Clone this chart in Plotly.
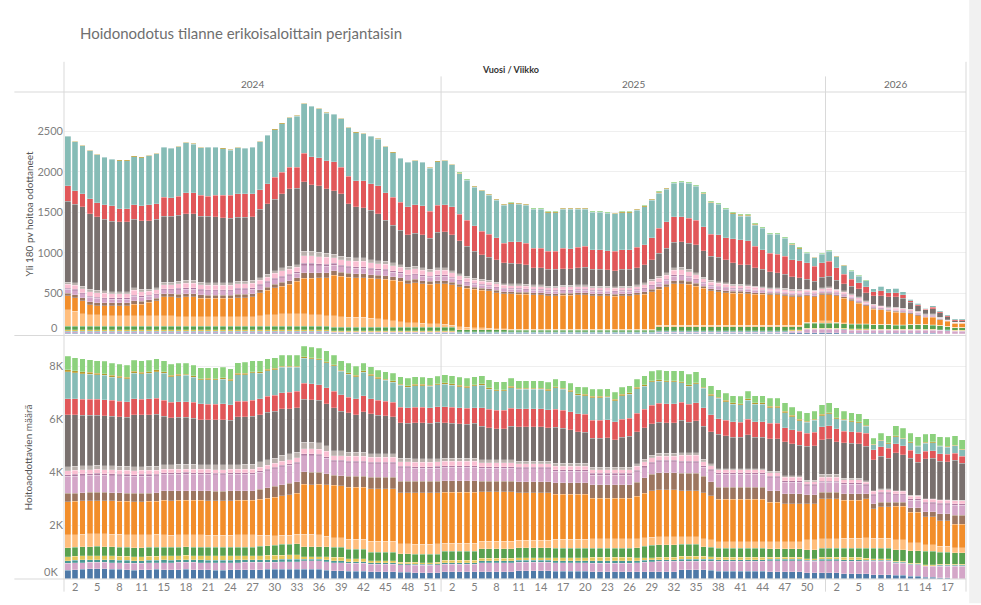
import plotly.graph_objects as go
from plotly.subplots import make_subplots

# ---------------- categories ----------------
weeks_2024 = [1, 2, 3, 4, 5, 6, 7, 8, 9, 10, 11, 12] + list(range(14, 53))
weeks_2025 = list(range(1, 53))
weeks_2026 = list(range(1, 20))
weeks = weeks_2024 + weeks_2025 + weeks_2026
years = ["2024"] * len(weeks_2024) + ["2025"] * len(weeks_2025) + ["2026"] * len(weeks_2026)
x = list(range(len(weeks)))

# ---------------- series: top panel (Yli 180 pv hoitoa odottaneet) ----------------
t_blue = [8, 8, 8, 8, 8, 8, 8, 8, 8, 8,
          8, 8, 8, 8, 8, 8, 8, 8, 8, 8,
          8, 8, 8, 8, 8, 8, 8, 8, 8, 8,
          8, 8, 8, 8, 8, 8, 6, 6, 6, 6,
          6, 6, 6, 6, 6, 6, 6, 6, 6, 6,
          6, 6, 6, 4, 4, 4, 4, 4, 4, 4,
          4, 4, 4, 4, 4, 4, 4, 4, 4, 4,
          4, 4, 4, 4, 4, 4, 4, 4, 4, 4,
          6, 6, 6, 6, 6, 6, 6, 6, 6, 6,
          6, 6, 6, 6, 6, 6, 6, 6, 15, 15,
          15, 15, 15, 15, 15, 5, 3, 3, 3, 3,
          3, 3, 3, 3, 3, 3, 3, 3, 2, 2,
          2, 2]
t_lavlow = [15, 15, 15, 15, 15, 15, 15, 15, 15, 15,
            15, 15, 15, 15, 15, 15, 15, 15, 15, 15,
            15, 15, 15, 15, 15, 15, 15, 15, 15, 15,
            15, 15, 15, 15, 15, 15, 12, 12, 12, 12,
            12, 12, 12, 12, 12, 12, 12, 12, 12, 12,
            12, 12, 12, 10, 10, 10, 10, 10, 10, 10,
            10, 10, 10, 10, 10, 10, 10, 10, 10, 10,
            10, 10, 10, 10, 10, 10, 10, 10, 10, 10,
            15, 15, 15, 15, 15, 15, 15, 15, 15, 15,
            15, 15, 15, 15, 15, 15, 15, 15, 15, 15,
            40, 40, 40, 40, 40, 45, 42, 42, 42, 40,
            40, 40, 40, 40, 42, 42, 42, 40, 38, 35,
            30, 30]
t_teal2 = [10, 10, 10, 10, 10, 10, 10, 10, 10, 10,
           10, 10, 10, 10, 10, 10, 10, 10, 10, 10,
           10, 10, 10, 10, 10, 10, 10, 10, 10, 10,
           10, 10, 10, 10, 10, 10, 8, 8, 8, 8,
           8, 8, 8, 8, 8, 8, 8, 8, 8, 8,
           8, 8, 8, 5, 5, 5, 5, 5, 5, 5,
           5, 5, 5, 5, 5, 5, 5, 5, 5, 5,
           5, 5, 5, 5, 5, 5, 5, 5, 5, 5,
           7, 7, 7, 7, 7, 7, 7, 7, 7, 7,
           7, 7, 7, 7, 7, 7, 7, 7, 7, 7,
           6, 6, 6, 6, 6, 6, 6, 6, 6, 6,
           6, 6, 5, 5, 5, 5, 5, 5, 5, 4,
           4, 4]
t_yellow = [15, 15, 15, 15, 15, 15, 15, 15, 15, 15,
            15, 15, 15, 15, 15, 15, 15, 15, 15, 15,
            15, 15, 15, 15, 15, 15, 15, 15, 15, 15,
            15, 15, 15, 15, 15, 15, 12, 12, 12, 12,
            12, 12, 12, 12, 12, 12, 12, 12, 12, 12,
            12, 12, 12, 7, 7, 7, 7, 7, 7, 7,
            7, 7, 7, 7, 7, 7, 7, 7, 7, 7,
            7, 7, 7, 7, 7, 7, 7, 7, 7, 7,
            11, 11, 11, 11, 11, 11, 11, 11, 11, 11,
            11, 11, 11, 11, 11, 11, 11, 11, 11, 11,
            9, 9, 9, 9, 9, 10, 9, 9, 9, 9,
            9, 9, 8, 8, 8, 8, 8, 8, 7, 7,
            6, 6]
t_green = [45, 45, 45, 45, 45, 45, 45, 45, 45, 45,
           45, 45, 45, 45, 45, 45, 45, 45, 45, 45,
           45, 45, 45, 45, 45, 45, 45, 45, 45, 45,
           45, 45, 45, 45, 45, 45, 43, 43, 43, 43,
           43, 43, 43, 43, 43, 43, 43, 43, 43, 43,
           43, 43, 43, 23, 23, 23, 23, 23, 23, 23,
           19, 19, 19, 19, 19, 19, 19, 19, 19, 19,
           19, 19, 19, 19, 19, 19, 19, 19, 19, 19,
           50, 50, 50, 50, 50, 50, 50, 50, 50, 50,
           50, 50, 50, 50, 50, 50, 50, 50, 41, 41,
           60, 60, 60, 60, 60, 60, 55, 55, 55, 50,
           50, 50, 48, 48, 50, 50, 50, 48, 44, 40,
           34, 34]
t_lorange = [200, 183, 151, 139, 139, 131, 131, 131, 131, 131,
             131, 131, 131, 131, 131, 118, 118, 118, 118, 118,
             118, 118, 118, 118, 118, 118, 131, 139, 143, 151,
             151, 151, 151, 139, 139, 131, 143, 130, 122, 122,
             122, 110, 102, 90, 82, 69, 57, 57, 49, 41,
             41, 33, 21, 40, 32, 24, 24, 16, 12, 12,
             10, 10, 10, 10, 10, 10, 10, 10, 10, 10,
             10, 10, 10, 10, 10, 10, 10, 10, 10, 10,
             13, 13, 13, 13, 13, 13, 13, 13, 13, 13,
             13, 13, 13, 13, 13, 13, 13, 13, 13, 13,
             12, 12, 33, 33, 12, 8, 7, 7, 7, 6,
             6, 6, 6, 6, 6, 6, 6, 6, 6, 5,
             5, 5]
t_orange = [174, 171, 163, 126, 114, 122, 122, 122, 122, 142,
            142, 162, 183, 231, 231, 236, 244, 244, 228, 228,
            228, 228, 228, 236, 236, 244, 284, 305, 333, 345,
            366, 406, 439, 451, 459, 467, 500, 500, 496, 488,
            488, 492, 496, 500, 496, 500, 480, 492, 488, 488,
            496, 504, 500, 488, 480, 476, 464, 463, 447, 435,
            439, 433, 433, 425, 425, 412, 412, 421, 421, 425,
            425, 412, 412, 412, 408, 412, 412, 425, 433, 465,
            447, 475, 516, 516, 508, 487, 459, 426, 418, 406,
            398, 398, 394, 386, 386, 378, 378, 365, 357, 357,
            325, 313, 317, 317, 325, 305, 285, 252, 224, 191,
            179, 162, 154, 146, 130, 110, 89, 93, 73, 61,
            49, 49]
t_brown = [34, 37, 36, 38, 38, 36, 35, 35, 35, 41,
           37, 33, 32, 37, 37, 41, 41, 41, 40, 38,
           38, 38, 38, 41, 41, 41, 37, 39, 42, 45,
           45, 41, 67, 67, 63, 61, 52, 49, 49, 49,
           49, 46, 45, 45, 43, 41, 41, 41, 39, 37,
           39, 39, 36, 33, 30, 27, 27, 26, 26, 24,
           24, 26, 24, 24, 24, 24, 24, 24, 24, 24,
           24, 24, 24, 24, 24, 24, 24, 24, 28, 30,
           32, 35, 39, 41, 37, 33, 28, 26, 24, 24,
           22, 22, 21, 20, 19, 18, 18, 19, 18, 18,
           16, 16, 18, 19, 16, 18, 18, 16, 12, 12,
           11, 11, 12, 12, 12, 10, 8, 8, 6, 4,
           2, 2]
t_lav = [46, 49, 49, 52, 52, 49, 47, 47, 47, 55,
         49, 44, 44, 49, 49, 55, 55, 55, 54, 52,
         52, 52, 52, 55, 55, 55, 49, 53, 57, 60,
         60, 55, 90, 90, 85, 82, 70, 66, 66, 66,
         66, 63, 60, 60, 58, 55, 55, 55, 53, 49,
         53, 53, 48, 44, 41, 36, 36, 35, 35, 33,
         33, 35, 33, 33, 33, 33, 33, 33, 33, 33,
         33, 33, 33, 32, 32, 33, 33, 33, 38, 41,
         44, 47, 53, 55, 49, 44, 37, 35, 33, 33,
         30, 30, 29, 27, 25, 24, 24, 25, 24, 24,
         22, 22, 24, 26, 22, 24, 24, 22, 16, 16,
         14, 15, 16, 16, 16, 14, 11, 11, 8, 6,
         3, 3]
t_purple = [14, 15, 15, 15, 15, 15, 14, 14, 14, 16,
            15, 13, 13, 15, 15, 16, 16, 16, 16, 15,
            15, 15, 15, 16, 16, 16, 15, 16, 17, 18,
            18, 16, 27, 27, 25, 24, 21, 20, 20, 20,
            20, 19, 18, 18, 17, 16, 16, 16, 16, 15,
            16, 16, 14, 13, 12, 11, 11, 10, 10, 10,
            10, 10, 10, 10, 10, 10, 10, 10, 10, 10,
            10, 10, 10, 9, 9, 10, 10, 10, 11, 12,
            13, 14, 16, 16, 15, 13, 11, 10, 10, 10,
            9, 9, 8, 8, 7, 7, 7, 8, 7, 7,
            7, 7, 7, 8, 7, 7, 7, 6, 5, 5,
            4, 5, 5, 5, 5, 4, 3, 3, 2, 2,
            1, 1]
t_pink = [48, 51, 51, 53, 53, 51, 49, 49, 49, 57,
          51, 46, 45, 51, 51, 57, 57, 57, 56, 53,
          53, 53, 53, 57, 57, 57, 51, 55, 59, 63,
          62, 57, 93, 93, 88, 85, 73, 68, 68, 68,
          68, 65, 62, 62, 60, 57, 57, 57, 55, 51,
          55, 55, 50, 46, 42, 38, 38, 37, 36, 34,
          34, 36, 34, 34, 34, 34, 34, 34, 34, 34,
          34, 34, 34, 33, 33, 34, 34, 34, 40, 42,
          45, 49, 55, 57, 51, 46, 39, 37, 34, 34,
          31, 31, 30, 28, 26, 25, 25, 26, 25, 25,
          23, 23, 25, 27, 23, 25, 25, 23, 17, 17,
          15, 16, 17, 17, 17, 15, 12, 12, 8, 6,
          4, 4]
t_lgrey = [29, 31, 31, 33, 33, 31, 29, 29, 29, 34,
           31, 27, 28, 31, 31, 34, 35, 35, 33, 33,
           33, 33, 33, 34, 34, 35, 31, 32, 36, 38,
           38, 35, 56, 56, 52, 53, 44, 41, 41, 41,
           41, 39, 38, 38, 37, 35, 34, 34, 32, 31,
           32, 32, 30, 27, 25, 22, 22, 23, 23, 21,
           21, 23, 21, 21, 21, 21, 21, 21, 21, 21,
           21, 21, 21, 20, 20, 21, 21, 21, 25, 26,
           28, 30, 32, 34, 31, 27, 23, 23, 21, 21,
           18, 18, 18, 18, 16, 15, 15, 16, 16, 16,
           14, 14, 15, 17, 14, 15, 15, 14, 11, 11,
           9, 10, 11, 11, 11, 9, 7, 7, 4, 3,
           2, 2]
t_dgrey = [1000, 968, 976, 935, 906, 887, 870, 862, 862, 846,
           845, 845, 842, 813, 813, 813, 825, 825, 813, 821,
           813, 801, 793, 785, 785, 784, 846, 874, 879, 915,
           956, 943, 862, 825, 825, 793, 784, 773, 663, 630,
           622, 609, 582, 508, 467, 426, 399, 407, 407, 386,
           439, 447, 440, 406, 366, 333, 305, 284, 277, 256,
           256, 244, 244, 211, 211, 204, 204, 207, 207, 211,
           219, 204, 204, 204, 199, 204, 204, 211, 224, 244,
           285, 305, 317, 317, 325, 346, 325, 296, 301, 285,
           264, 244, 252, 224, 212, 195, 183, 171, 154, 142,
           122, 113, 130, 134, 110, 90, 93, 102, 101, 101,
           121, 122, 130, 122, 81, 70, 49, 65, 57, 36,
           21, 21]
t_red = [191, 170, 163, 183, 171, 179, 187, 163, 163, 179,
         183, 200, 195, 236, 228, 236, 256, 256, 256, 248,
         264, 276, 284, 293, 293, 285, 243, 244, 272, 264,
         264, 256, 350, 346, 346, 345, 354, 325, 337, 325,
         333, 326, 345, 338, 346, 346, 345, 354, 357, 333,
         333, 334, 345, 326, 325, 317, 292, 285, 272, 244,
         264, 276, 264, 244, 244, 223, 223, 252, 244, 252,
         256, 244, 244, 235, 236, 244, 244, 252, 244, 272,
         305, 325, 313, 305, 305, 304, 297, 273, 277, 272,
         297, 305, 292, 264, 244, 232, 232, 223, 212, 211,
         203, 183, 175, 183, 154, 114, 82, 73, 69, 53,
         61, 53, 53, 41, 21, 12, 12, 16, 12, 13,
         12, 12]
t_lteal = [610, 602, 593, 593, 593, 585, 578, 593, 593, 593,
           598, 601, 614, 614, 610, 610, 618, 602, 590, 602,
           594, 578, 561, 569, 561, 573, 590, 601, 589, 602,
           614, 634, 610, 622, 602, 590, 585, 602, 598, 594,
           578, 589, 574, 569, 549, 541, 553, 540, 537, 533,
           541, 540, 520, 502, 491, 478, 494, 482, 462, 470,
           470, 462, 470, 478, 478, 478, 478, 482, 490, 474,
           462, 461, 461, 462, 462, 457, 457, 462, 469, 462,
           433, 401, 413, 425, 433, 417, 405, 388, 376, 348,
           311, 291, 304, 263, 262, 230, 242, 222, 181, 149,
           122, 102, 110, 122, 138, 110, 102, 78, 74, 37,
           61, 49, 53, 36, 20, 16, 8, 21, 13, 8,
           8, 8]
t_olive = [8, 8, 8, 8, 8, 8, 8, 8, 8, 8,
           8, 8, 8, 8, 8, 8, 8, 8, 8, 8,
           8, 8, 8, 8, 8, 8, 8, 8, 8, 8,
           8, 8, 8, 8, 8, 8, 8, 8, 8, 8,
           8, 8, 8, 8, 8, 8, 8, 8, 8, 8,
           8, 8, 8, 10, 10, 10, 10, 10, 10, 10,
           10, 10, 10, 10, 10, 10, 10, 10, 10, 10,
           10, 10, 10, 10, 10, 10, 10, 10, 10, 10,
           10, 10, 10, 10, 10, 10, 10, 10, 10, 10,
           10, 10, 10, 10, 10, 10, 10, 10, 10, 10,
           6, 6, 6, 6, 6, 6, 6, 6, 6, 0,
           0, 0, 0, 0, 0, 0, 0, 0, 0, 0,
           0, 0]
t_lgreen = [0, 0, 0, 0, 0, 0, 0, 0, 0, 0,
            0, 0, 0, 0, 0, 0, 0, 0, 0, 0,
            0, 0, 0, 0, 0, 0, 0, 0, 0, 0,
            0, 0, 0, 0, 0, 0, 0, 0, 0, 0,
            0, 0, 0, 0, 0, 0, 0, 0, 0, 0,
            0, 0, 0, 8, 8, 8, 8, 8, 8, 8,
            8, 8, 8, 8, 8, 8, 8, 8, 8, 8,
            8, 8, 8, 8, 8, 8, 8, 8, 8, 8,
            12, 12, 12, 12, 12, 12, 12, 12, 12, 12,
            12, 12, 12, 12, 12, 12, 12, 12, 12, 12,
            6, 6, 6, 6, 6, 6, 6, 6, 6, 0,
            0, 0, 0, 0, 0, 0, 0, 0, 0, 0,
            0, 0]

# ---------------- series: bottom panel (Hoitoaodottavien määrä) ----------------
b_blue = [330, 345, 360, 370, 375, 370, 360, 350, 340, 330,
          335, 345, 350, 340, 335, 345, 350, 345, 340, 335,
          330, 330, 335, 340, 345, 345, 345, 350, 355, 360,
          365, 365, 365, 365, 365, 330, 297, 297, 290, 290,
          290, 270, 270, 270, 270, 240, 240, 230, 225, 225,
          235, 260, 260, 260, 260, 260, 265, 265, 265, 265,
          265, 305, 305, 305, 305, 305, 285, 285, 285, 285,
          285, 260, 260, 260, 260, 260, 260, 260, 260, 260,
          260, 260, 260, 347, 347, 347, 347, 320, 285, 285,
          285, 285, 285, 285, 285, 260, 260, 260, 260, 260,
          223, 223, 223, 223, 223, 186, 186, 186, 186, 161,
          161, 161, 136, 136, 100, 100, 62, 62, 40, 40,
          10, 10]
b_lavlow = [250, 250, 250, 250, 250, 250, 250, 250, 250, 250,
            250, 250, 250, 270, 270, 270, 270, 270, 270, 270,
            270, 270, 270, 270, 270, 270, 270, 270, 270, 272,
            272, 272, 310, 310, 310, 310, 310, 310, 300, 300,
            300, 280, 280, 280, 280, 285, 285, 285, 285, 285,
            285, 280, 280, 280, 280, 280, 340, 340, 340, 340,
            340, 310, 310, 310, 310, 310, 310, 310, 310, 310,
            310, 334, 334, 334, 334, 334, 334, 350, 370, 390,
            396, 396, 396, 310, 310, 310, 310, 340, 371, 371,
            371, 371, 371, 371, 371, 421, 421, 421, 421, 421,
            433, 433, 458, 458, 458, 470, 470, 470, 470, 495,
            495, 495, 458, 458, 430, 430, 409, 409, 440, 440,
            470, 470]
b_teal2 = [100, 100, 100, 100, 100, 100, 100, 100, 100, 100,
           100, 100, 100, 100, 100, 100, 100, 100, 100, 100,
           100, 100, 100, 100, 100, 100, 100, 100, 100, 100,
           100, 100, 60, 60, 60, 70, 80, 80, 60, 60,
           60, 50, 50, 50, 50, 40, 40, 40, 40, 40,
           40, 60, 60, 60, 60, 60, 65, 65, 65, 65,
           65, 75, 75, 75, 75, 75, 80, 80, 80, 80,
           80, 80, 80, 80, 80, 80, 80, 70, 65, 60,
           60, 60, 60, 75, 75, 75, 75, 70, 60, 60,
           60, 60, 60, 60, 60, 50, 50, 50, 50, 50,
           40, 40, 50, 50, 50, 60, 60, 60, 50, 40,
           40, 40, 25, 25, 25, 25, 25, 25, 25, 25,
           25, 25]
b_yellow = [150, 150, 150, 150, 150, 150, 150, 150, 150, 150,
            150, 150, 150, 160, 160, 160, 160, 160, 160, 160,
            160, 160, 160, 160, 160, 160, 160, 160, 160, 160,
            160, 160, 90, 90, 90, 110, 130, 130, 100, 100,
            100, 80, 80, 80, 80, 60, 60, 60, 60, 60,
            60, 90, 90, 90, 90, 90, 95, 95, 95, 95,
            95, 110, 110, 110, 110, 110, 120, 120, 120, 120,
            120, 130, 130, 130, 130, 130, 130, 110, 100, 90,
            89, 89, 89, 111, 111, 111, 111, 100, 89, 89,
            89, 89, 89, 89, 89, 74, 74, 74, 74, 74,
            59, 59, 74, 74, 74, 89, 89, 89, 74, 59,
            59, 59, 37, 37, 37, 37, 37, 37, 37, 37,
            37, 37]
b_green = [340, 340, 340, 340, 340, 340, 340, 340, 340, 340,
           340, 340, 340, 320, 320, 320, 320, 320, 320, 320,
           320, 320, 320, 320, 320, 320, 340, 360, 380, 400,
           410, 421, 384, 384, 384, 380, 371, 371, 360, 360,
           360, 320, 320, 320, 320, 310, 310, 310, 310, 310,
           310, 350, 350, 350, 350, 350, 370, 370, 370, 370,
           370, 370, 370, 370, 370, 370, 347, 347, 347, 347,
           347, 347, 347, 347, 347, 347, 347, 380, 420, 460,
           470, 470, 470, 458, 458, 458, 371, 360, 347, 347,
           347, 347, 347, 347, 347, 322, 322, 322, 322, 322,
           334, 334, 347, 347, 347, 347, 347, 347, 371, 396,
           396, 396, 433, 433, 460, 460, 495, 495, 460, 460,
           433, 433]
b_lorange = [480, 480, 480, 480, 480, 480, 480, 480, 480, 480,
             480, 480, 480, 460, 460, 460, 460, 460, 460, 460,
             460, 460, 460, 460, 460, 460, 420, 390, 360, 340,
             340, 360, 458, 458, 440, 400, 347, 347, 380, 380,
             380, 420, 420, 420, 420, 380, 380, 380, 380, 380,
             380, 300, 300, 300, 300, 300, 275, 275, 275, 275,
             275, 285, 285, 285, 285, 285, 347, 347, 347, 347,
             347, 347, 347, 347, 347, 347, 347, 330, 320, 310,
             310, 310, 310, 285, 285, 285, 285, 270, 248, 248,
             248, 248, 248, 248, 248, 272, 272, 272, 272, 272,
             371, 371, 347, 347, 347, 371, 371, 371, 396, 371,
             371, 371, 371, 371, 300, 300, 248, 248, 220, 220,
             186, 186]
b_orange = [1250, 1250, 1250, 1250, 1250, 1250, 1250, 1250, 1250, 1250,
            1250, 1250, 1250, 1300, 1300, 1300, 1300, 1300, 1300, 1300,
            1300, 1300, 1300, 1300, 1300, 1300, 1350, 1400, 1450, 1500,
            1520, 1535, 1882, 1880, 1900, 1940, 1981, 1960, 1960, 1960,
            1960, 1960, 1960, 1960, 1960, 1930, 1930, 1930, 1930, 1930,
            1930, 1910, 1910, 1910, 1910, 1910, 1860, 1860, 1860, 1860,
            1860, 1790, 1790, 1790, 1790, 1790, 1690, 1690, 1690, 1690,
            1690, 1540, 1540, 1540, 1540, 1540, 1540, 1600, 1680, 1740,
            1770, 1770, 1770, 1733, 1733, 1733, 1740, 1660, 1585, 1585,
            1585, 1585, 1585, 1585, 1585, 1486, 1486, 1430, 1430, 1430,
            1362, 1362, 1510, 1510, 1510, 1424, 1424, 1424, 1461, 1114,
            1180, 1180, 1275, 1275, 1150, 1150, 1052, 1052, 970, 970,
            891, 891]
b_brown = [310, 310, 310, 310, 310, 310, 310, 310, 310, 310,
           310, 310, 310, 360, 360, 360, 360, 360, 360, 360,
           360, 360, 360, 360, 360, 360, 380, 390, 400, 410,
           420, 433, 470, 470, 460, 420, 371, 390, 410, 410,
           410, 440, 440, 440, 440, 433, 433, 433, 433, 433,
           433, 430, 430, 430, 430, 430, 400, 400, 400, 400,
           400, 410, 410, 410, 410, 410, 433, 433, 433, 433,
           433, 495, 495, 495, 495, 495, 495, 540, 580, 620,
           644, 644, 644, 644, 644, 644, 619, 540, 458, 458,
           458, 458, 458, 458, 458, 433, 433, 380, 380, 380,
           334, 334, 248, 248, 248, 248, 248, 248, 186, 186,
           186, 186, 149, 149, 170, 170, 186, 186, 260, 260,
           347, 347]
b_lav = [640, 640, 640, 640, 640, 640, 640, 640, 640, 640,
         640, 640, 640, 620, 620, 620, 620, 620, 620, 620,
         620, 620, 620, 620, 620, 620, 640, 650, 660, 670,
         680, 681, 619, 619, 619, 570, 520, 520, 510, 510,
         510, 500, 500, 500, 500, 495, 495, 495, 495, 495,
         495, 520, 520, 520, 520, 520, 495, 495, 495, 495,
         495, 490, 490, 490, 490, 490, 433, 433, 433, 433,
         433, 371, 371, 371, 371, 371, 371, 380, 390, 395,
         396, 396, 396, 409, 409, 409, 330, 410, 495, 495,
         495, 495, 495, 495, 495, 480, 480, 420, 420, 420,
         347, 347, 371, 371, 371, 371, 371, 371, 310, 310,
         310, 310, 272, 272, 290, 290, 310, 310, 340, 340,
         371, 371]
b_purple = [70, 70, 70, 70, 70, 70, 70, 70, 70, 70,
            70, 70, 70, 60, 60, 60, 60, 60, 60, 60,
            60, 60, 60, 60, 60, 60, 60, 60, 60, 60,
            60, 60, 60, 60, 60, 60, 60, 60, 60, 60,
            60, 60, 60, 60, 60, 60, 60, 60, 60, 60,
            60, 60, 60, 60, 60, 60, 60, 60, 60, 60,
            60, 60, 60, 60, 60, 60, 60, 60, 60, 60,
            60, 60, 60, 60, 60, 60, 60, 60, 60, 60,
            60, 60, 60, 60, 60, 60, 60, 60, 60, 60,
            60, 60, 60, 60, 60, 60, 60, 60, 60, 60,
            50, 50, 50, 50, 50, 50, 50, 50, 50, 50,
            50, 50, 50, 50, 50, 50, 50, 50, 50, 50,
            50, 50]
b_pink = [150, 150, 150, 150, 150, 150, 150, 150, 150, 150,
          150, 150, 150, 130, 130, 130, 130, 130, 130, 130,
          130, 130, 130, 130, 130, 130, 140, 150, 150, 160,
          160, 161, 190, 190, 190, 200, 170, 170, 180, 180,
          180, 200, 200, 200, 200, 170, 170, 170, 170, 170,
          170, 160, 160, 160, 160, 160, 140, 140, 140, 140,
          140, 120, 120, 120, 120, 120, 130, 130, 130, 130,
          130, 140, 140, 140, 140, 140, 140, 150, 160, 163,
          163, 163, 163, 212, 212, 212, 150, 125, 100, 100,
          100, 100, 100, 100, 100, 140, 140, 140, 140, 140,
          100, 100, 136, 136, 136, 111, 111, 111, 86, 111,
          111, 111, 86, 86, 100, 100, 111, 111, 111, 111,
          111, 111]
b_lgrey = [150, 150, 150, 150, 150, 150, 150, 150, 150, 150,
           150, 150, 150, 180, 180, 180, 180, 180, 180, 180,
           180, 180, 180, 180, 180, 180, 190, 200, 200, 210,
           210, 210, 248, 248, 248, 210, 186, 186, 160, 160,
           160, 130, 130, 130, 130, 124, 124, 124, 124, 124,
           124, 124, 124, 124, 124, 124, 120, 120, 120, 120,
           120, 100, 100, 100, 100, 100, 120, 120, 120, 120,
           120, 87, 87, 87, 87, 87, 87, 90, 95, 99,
           99, 99, 99, 99, 99, 99, 99, 75, 50, 50,
           50, 50, 50, 50, 50, 50, 50, 50, 50, 50,
           50, 50, 124, 124, 124, 50, 50, 50, 50, 25,
           25, 25, 25, 25, 25, 25, 25, 25, 25, 25,
           25, 25]
b_dgrey = [1960, 1935, 1910, 1900, 1890, 1880, 1860, 1850, 1840, 1950,
           1940, 1940, 1960, 1820, 1760, 1770, 1770, 1740, 1690, 1690,
           1690, 1700, 1670, 1790, 1790, 1820, 1780, 1780, 1760, 1750,
           1700, 1680, 1620, 1610, 1590, 1580, 1620, 1490, 1470, 1410,
           1520, 1500, 1450, 1420, 1380, 1350, 1320, 1360, 1360, 1345,
           1370, 1330, 1310, 1290, 1270, 1300, 1260, 1200, 1170, 1170,
           1250, 1290, 1290, 1290, 1290, 1260, 1350, 1310, 1260, 1180,
           1160, 1100, 1100, 1110, 1040, 1140, 1170, 1220, 1180, 1180,
           1170, 1160, 1160, 1220, 1150, 1200, 1250, 1200, 1290, 1230,
           1180, 1170, 1270, 1180, 1180, 1230, 1230, 1270, 1200, 1150,
           1280, 1310, 1290, 1330, 1220, 1340, 1320, 1310, 1290, 1170,
           1220, 1150, 1420, 1350, 1390, 1250, 1500, 1520, 1450, 1430,
           1500, 1390]
b_red = [600, 600, 600, 600, 600, 600, 600, 600, 600, 600,
         600, 600, 600, 590, 590, 590, 590, 590, 590, 590,
         590, 590, 590, 590, 590, 590, 600, 600, 610, 610,
         619, 619, 594, 594, 594, 610, 619, 619, 600, 600,
         600, 560, 560, 560, 560, 580, 580, 580, 580, 580,
         580, 600, 600, 600, 600, 600, 690, 690, 690, 690,
         690, 680, 680, 680, 680, 680, 680, 680, 680, 680,
         680, 681, 681, 681, 681, 681, 681, 690, 700, 710,
         718, 718, 718, 681, 681, 681, 693, 640, 582, 582,
         582, 582, 582, 582, 582, 570, 570, 530, 530, 530,
         495, 495, 495, 495, 495, 433, 433, 433, 495, 371,
         371, 371, 347, 347, 310, 310, 285, 285, 280, 280,
         272, 272]
b_lteal = [1020, 990, 963, 946, 929, 914, 882, 867, 850, 971,
           956, 956, 998, 1031, 967, 982, 982, 950, 901, 914,
           914, 929, 896, 999, 999, 1031, 967, 969, 951, 951,
           937, 896, 950, 937, 928, 933, 950, 871, 862, 823,
           882, 879, 805, 773, 751, 820, 788, 810, 810, 801,
           825, 845, 828, 799, 781, 813, 847, 759, 727, 727,
           770, 729, 729, 729, 729, 710, 801, 779, 743, 699,
           694, 843, 843, 845, 791, 877, 909, 928, 872, 871,
           829, 814, 814, 727, 673, 710, 721, 721, 770, 706,
           657, 642, 728, 657, 657, 594, 594, 578, 487, 388,
           418, 449, 421, 443, 367, 417, 376, 348, 259, 181,
           213, 184, 265, 249, 281, 285, 306, 311, 274, 269,
           274, 235]
b_olive = [60, 60, 60, 60, 60, 60, 60, 60, 60, 60,
           60, 60, 60, 50, 50, 50, 50, 50, 50, 50,
           50, 50, 50, 50, 50, 50, 50, 50, 50, 50,
           50, 50, 50, 50, 50, 50, 50, 50, 50, 50,
           50, 50, 50, 50, 50, 50, 50, 50, 50, 50,
           50, 50, 50, 50, 50, 50, 50, 50, 50, 50,
           50, 50, 50, 50, 50, 50, 50, 50, 50, 50,
           50, 50, 50, 50, 50, 50, 50, 50, 50, 50,
           50, 50, 50, 50, 50, 50, 50, 50, 50, 50,
           50, 50, 50, 50, 50, 50, 50, 50, 50, 50,
           40, 40, 40, 40, 40, 40, 40, 40, 40, 30,
           30, 30, 30, 30, 30, 30, 30, 30, 30, 30,
           30, 30]
b_lgreen = [507, 500, 490, 480, 470, 470, 460, 460, 450, 430,
            430, 430, 430, 410, 410, 410, 410, 410, 410, 410,
            410, 410, 410, 410, 410, 410, 409, 409, 409, 409,
            409, 409, 396, 396, 396, 400, 350, 350, 350, 350,
            280, 280, 280, 280, 280, 280, 280, 280, 280, 280,
            280, 300, 300, 300, 300, 300, 300, 300, 300, 300,
            300, 272, 272, 272, 272, 272, 272, 272, 272, 272,
            272, 272, 272, 272, 272, 272, 272, 300, 330, 360,
            371, 371, 371, 409, 409, 409, 359, 320, 272, 272,
            272, 272, 272, 272, 272, 310, 310, 310, 310, 310,
            310, 310, 371, 371, 371, 300, 300, 300, 248, 210,
            260, 260, 371, 371, 330, 330, 310, 310, 330, 330,
            347, 347]

# stacking order (bottom -> top), colours (Tableau 20)
series = [
    ("Erikoisala 1", "#4e79a7", t_blue, b_blue),
    ("Erikoisala 2", "#d4a6c8", t_lavlow, b_lavlow),
    ("Erikoisala 3", "#499894", t_teal2, b_teal2),
    ("Erikoisala 4", "#e3c55a", t_yellow, b_yellow),
    ("Erikoisala 5", "#59a14f", t_green, b_green),
    ("Erikoisala 6", "#ffbe7d", t_lorange, b_lorange),
    ("Erikoisala 7", "#f28e2b", t_orange, b_orange),
    ("Erikoisala 8", "#9d7660", t_brown, b_brown),
    ("Erikoisala 9", "#d4a6c8", t_lav, b_lav),
    ("Erikoisala 10", "#b07aa1", t_purple, b_purple),
    ("Erikoisala 11", "#fabfd2", t_pink, b_pink),
    ("Erikoisala 12", "#bab0ac", t_lgrey, b_lgrey),
    ("Erikoisala 13", "#79706e", t_dgrey, b_dgrey),
    ("Erikoisala 14", "#e15759", t_red, b_red),
    ("Erikoisala 15", "#86bcb6", t_lteal, b_lteal),
    ("Erikoisala 16", "#b6992d", t_olive, b_olive),
    ("Erikoisala 17", "#8cd17d", t_lgreen, b_lgreen),
]
for name, col, tv, bv in series:
    if len(tv) != len(weeks) or len(bv) != len(weeks):
        raise ValueError(f"{name}: {len(tv)} {len(bv)} vs {len(weeks)}")

top_ticks = [500, 1000, 1500, 2000, 2500]
top_ticktext = ["500", "1000", "1500", "2000", "2500"]
bot_ticks = [2000, 4000, 6000, 8000]
bot_ticktext = ["2K", "4K", "6K", "8K"]

fig = make_subplots(rows=2, cols=1, shared_xaxes=True, vertical_spacing=0.002)
for name, col, tv, bv in series:
    hover = [f"{y} / vk {w}" for y, w in zip(years, weeks)]
    fig.add_trace(go.Bar(x=x, y=tv, name=name, marker=dict(color=col, line=dict(color="rgba(255,255,255,0.55)", width=0.4)),
                         hovertext=hover, showlegend=False), row=1, col=1)
    fig.add_trace(go.Bar(x=x, y=bv, name=name, marker=dict(color=col, line=dict(color="rgba(255,255,255,0.55)", width=0.4)),
                         hovertext=hover, showlegend=False), row=2, col=1)

# week tick labels: every third bar, restarting in each year
tick_idx = []
start = 0
for wl in (weeks_2024, weeks_2025, weeks_2026):
    tick_idx += [start + k for k in range(1, len(wl) - 1, 3)]
    start += len(wl)

FONT = "Lato, 'Open Sans', 'Noto Sans', sans-serif"
fig.update_layout(
    width=981, height=605,
    barmode="stack", bargap=0.24,
    margin=dict(l=64, r=15, t=92, b=20),
    paper_bgcolor="white", plot_bgcolor="white",
    font=dict(family=FONT, color="#7a7a7a", size=11),
    showlegend=False,
)
xcommon = dict(range=[-0.5, len(x) - 0.5], showgrid=False, zeroline=False, showline=False, ticks="")
fig.update_xaxes(**xcommon)
fig.update_xaxes(showticklabels=False, row=1, col=1)
fig.update_xaxes(tickmode="array", tickvals=tick_idx, ticktext=[str(weeks[i]) for i in tick_idx],
                 tickfont=dict(size=11, color="#808080"), tickangle=0, row=2, col=1)
fig.update_layout(
    yaxis=dict(domain=[0.501, 1.0], range=[-16, 2984], tickmode="array", tickvals=top_ticks, ticktext=top_ticktext,
               showgrid=True, gridcolor="#efefef", gridwidth=1, zeroline=False, showline=False, ticks="",
               tickfont=dict(size=11, color="#808080")),
    yaxis2=dict(domain=[0.0, 0.499], range=[-8, 9137], tickmode="array", tickvals=bot_ticks, ticktext=bot_ticktext,
                showgrid=True, gridcolor="#efefef", gridwidth=1, zeroline=False, showline=False, ticks="",
                tickfont=dict(size=11, color="#808080")),
)

line_col = "#d9d9d9"
n = len(x)
sep_2025 = len(weeks_2024) / n
sep_2026 = (len(weeks_2024) + len(weeks_2025)) / n
shapes = [
    dict(type="line", xref="paper", yref="paper", x0=-0.055, x1=1.0, y0=1.0, y1=1.0, line=dict(color=line_col, width=1)),
    dict(type="line", xref="paper", yref="paper", x0=-0.055, x1=1.0, y0=0.5, y1=0.5, line=dict(color=line_col, width=1)),
    dict(type="line", xref="paper", yref="paper", x0=-0.055, x1=1.0, y0=0.0, y1=0.0, line=dict(color=line_col, width=1)),
    dict(type="line", xref="paper", yref="paper", x0=0.0, x1=0.0, y0=-0.026, y1=1.062, line=dict(color=line_col, width=1)),
    dict(type="line", xref="paper", yref="paper", x0=1.0, x1=1.0, y0=-0.026, y1=1.062, line=dict(color=line_col, width=1)),
    dict(type="line", xref="paper", yref="paper", x0=sep_2025, x1=sep_2025, y0=-0.026, y1=1.032, line=dict(color=line_col, width=1)),
    dict(type="line", xref="paper", yref="paper", x0=sep_2026, x1=sep_2026, y0=-0.026, y1=1.032, line=dict(color=line_col, width=1)),
    dict(type="rect", xref="paper", yref="paper", x0=1.0035, x1=1.0166, y0=-0.05, y1=1.19, line=dict(width=0), fillcolor="#f1f1f1"),
]
fig.update_layout(shapes=shapes)

year_centres = {
    "2024": (len(weeks_2024) - 1) / 2,
    "2025": len(weeks_2024) + (len(weeks_2025) - 1) / 2,
    "2026": len(weeks_2024) + len(weeks_2025) + (len(weeks_2026) - 1) / 2,
}
ann = [
    dict(text="Hoidonodotus tilanne erikoisaloittain perjantaisin", xref="paper", yref="paper", x=0.0155, y=1.1217,
         xanchor="left", yanchor="middle", showarrow=False, font=dict(size=15, color="#6f6f6f", family=FONT)),
    dict(text="<b>Vuosi / Viikko</b>", xref="paper", yref="paper", x=0.4945, y=1.0467, xanchor="center", yanchor="middle",
         showarrow=False, font=dict(size=9, color="#333333", family=FONT)),
    dict(text="Yli 180 pv hoitoa odottaneet", xref="paper", yref="paper", x=-0.0399, y=0.7505, textangle=-90,
         xanchor="center", yanchor="middle", showarrow=False, font=dict(size=10, color="#555555", family=FONT)),
    dict(text="Hoitoaodottavien määrä", xref="paper", yref="paper", x=-0.0399, y=0.2495, textangle=-90,
         xanchor="center", yanchor="middle", showarrow=False, font=dict(size=10, color="#555555", family=FONT)),
    # zero labels sit slightly above the baseline, as in the original
    dict(text="0", xref="paper", yref="y", x=-0.0044, y=0, yshift=6, xanchor="right", yanchor="middle",
         showarrow=False, font=dict(size=11, color="#808080", family=FONT)),
    dict(text="0K", xref="paper", yref="y2", x=-0.0044, y=0, yshift=7, xanchor="right", yanchor="middle",
         showarrow=False, font=dict(size=11, color="#808080", family=FONT)),
]
for yr, xc in year_centres.items():
    ann.append(dict(text=yr, xref="x", yref="paper", x=xc, y=1.016, xanchor="center", yanchor="middle",
                    showarrow=False, font=dict(size=10, color="#6a6a6a", family=FONT)))
fig.update_layout(annotations=ann)

fig.write_html("out.html", config={"displayModeBar": False},
               post_script="document.body.style.margin='0';document.body.style.overflow='hidden';")
